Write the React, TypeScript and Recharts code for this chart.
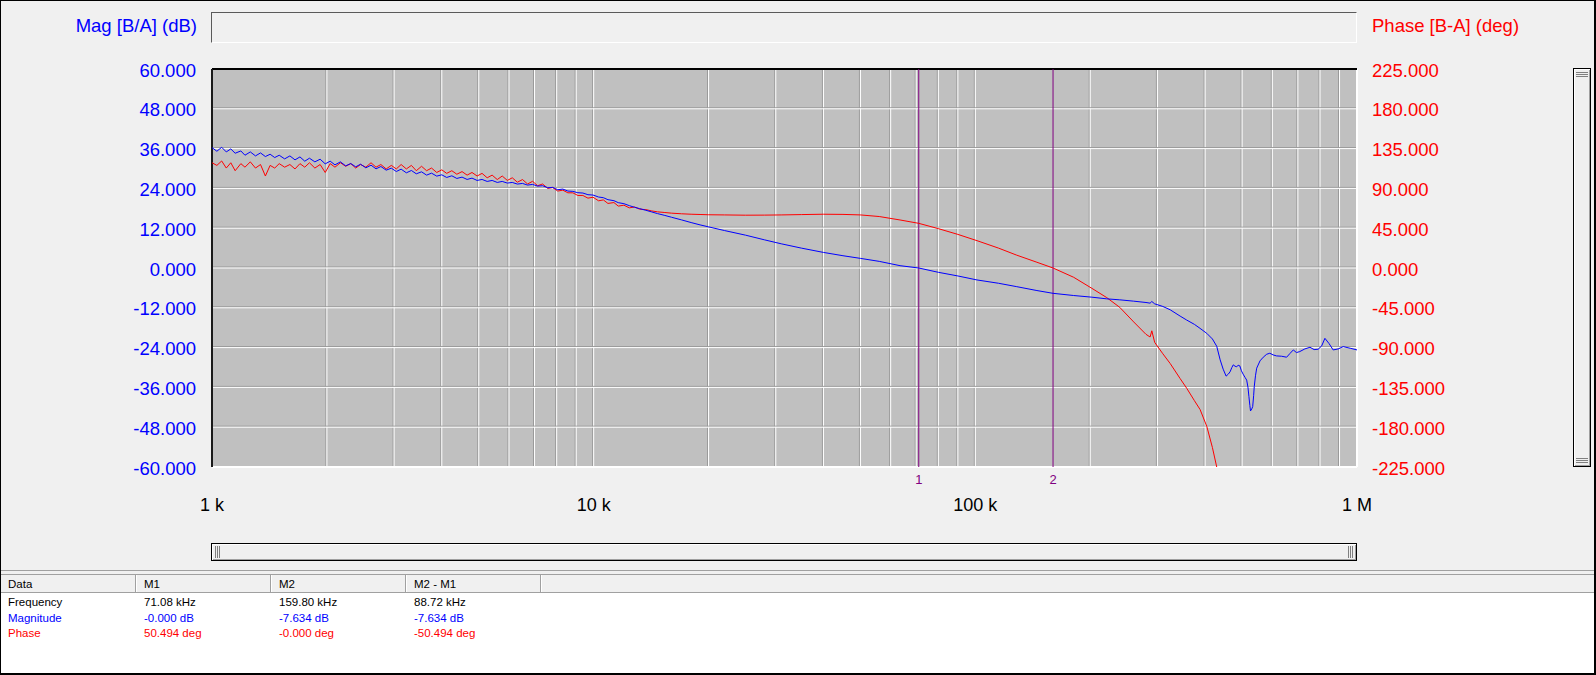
import React from 'react';
import { LineChart, Line, XAxis, YAxis, ReferenceLine, ReferenceArea } from 'recharts';

// Frequency points (kHz)
const freqKHz = [
  1.00, 1.03, 1.06, 1.09, 1.12, 1.15, 1.19, 1.22, 1.26, 1.30,
  1.34, 1.38, 1.42, 1.46, 1.50, 1.55, 1.60, 1.65, 1.70, 1.75,
  1.80, 1.86, 1.92, 1.98, 2.04, 2.10, 2.17, 2.24, 2.31, 2.38,
  2.45, 2.53, 2.61, 2.69, 2.77, 2.86, 2.95, 3.04, 3.13, 3.23,
  3.33, 3.43, 3.54, 3.65, 3.76, 3.88, 4.00, 4.12, 4.25, 4.38,
  4.52, 4.66, 4.80, 4.95, 5.10, 5.26, 5.42, 5.59, 5.76, 5.94,
  6.12, 6.31, 6.51, 6.71, 6.92, 7.13, 7.35, 7.58, 7.81, 8.05,
  8.30, 8.56, 8.82, 9.09, 9.37, 9.66, 9.96, 10.3, 10.6, 10.9,
  11.3, 11.6, 12.0, 12.4, 12.8, 13.2, 13.7, 14.2, 14.7, 15.3,
  16.0, 17.0, 18.0, 19.0, 20.0, 22.0, 25.0, 28.0, 31.0, 35.0,
  40.0, 45.0, 50.0, 56.0, 63.5, 71.08, 80.0, 90.0, 101, 115,
  128, 145, 159.8, 181, 202, 221, 239, 260, 280, 287,
  290, 295, 310, 324, 344, 358, 375, 388, 404, 418,
  429, 438, 446, 454, 460, 465, 470, 474, 479, 484,
  488, 493, 498, 503, 509, 514, 518, 521, 524, 526,
  530, 533, 536, 538, 542, 546, 557, 568, 580, 591,
  603, 615, 634, 654, 667, 681, 694, 708, 730, 753,
  772, 791, 808, 824, 845, 866, 893, 920, 960, 1000,
];

// Magnitude [B/A] (dB)
const magDb = [
  36.3, 35.2, 36.4, 35.0, 35.9, 34.6, 35.3, 34.0, 35.0, 33.8,
  34.7, 33.6, 34.3, 33.3, 34.0, 32.9, 33.8, 32.6, 33.5, 32.2,
  33.1, 32.0, 32.8, 31.4, 32.2, 31.1, 32.0, 30.8, 31.5, 30.5,
  31.3, 30.2, 31.0, 29.9, 30.6, 29.5, 30.1, 29.1, 29.8, 28.7,
  29.4, 28.4, 29.0, 28.0, 28.6, 27.7, 28.1, 27.3, 27.8, 27.0,
  27.4, 26.7, 27.1, 26.4, 26.7, 26.1, 26.4, 25.8, 26.1, 25.6,
  25.8, 25.3, 25.5, 25.0, 25.2, 24.7, 24.8, 24.2, 24.3, 23.6,
  23.8, 23.2, 23.1, 22.7, 22.6, 22.1, 22.0, 21.4, 21.2, 20.6,
  20.3, 19.7, 19.4, 18.8, 18.3, 17.9, 17.4, 16.9, 16.4, 15.9,
  15.3, 14.5, 13.7, 13.0, 12.4, 11.3, 9.9, 8.5, 7.3, 6.0,
  4.7, 3.7, 2.9, 2.0, 0.7, 0.0, -1.3, -2.4, -3.6, -4.6,
  -5.6, -6.8, -7.634, -8.3, -8.8, -9.3, -9.6, -10.0, -10.4, -10.6,
  -10.1, -10.8, -11.6, -12.6, -14.5, -15.7, -17.0, -18.2, -19.7, -21.4,
  -23.6, -27.7, -30.5, -32.6, -32.0, -31.3, -30.0, -29.2, -29.6, -29.8,
  -29.3, -29.5, -31.0, -32.0, -33.0, -33.8, -36.0, -38.8, -41.5, -43.1,
  -42.5, -41.8, -38.5, -35.8, -32.5, -30.2, -28.0, -26.9, -26.0, -25.7,
  -26.2, -26.5, -26.6, -26.9, -25.8, -24.7, -25.5, -25.2, -24.4, -23.9,
  -24.6, -24.5, -23.5, -21.2, -22.8, -24.7, -24.4, -23.7, -24.2, -24.7,
];

// Phase [B-A] (deg) — trace leaves the plot below -225 deg
const phaseDeg = [
  119, 116, 121, 113, 119, 110, 118, 114, 120, 113,
  117, 104, 116, 113, 118, 114, 117, 112, 118, 114,
  119, 113, 117, 108, 118, 114, 119, 115, 118, 113,
  117, 114, 119, 114, 117, 112, 116, 112, 117, 112,
  116, 110, 115, 110, 113, 108, 111, 107, 110, 106,
  109, 105, 108, 104, 107, 102, 105, 100, 104, 99,
  102, 97, 100, 95, 98, 93, 95, 90, 91, 87,
  88, 85, 85, 82, 82, 79, 80, 76, 77, 73,
  74, 70, 71, 68, 69, 66.5, 66, 64.5, 63.5, 62.8,
  62.0, 61.3, 60.8, 60.5, 60.2, 60.0, 59.7, 59.8, 60.0, 60.4,
  60.8, 60.6, 60.0, 58.2, 54.3, 50.494, 44.5, 38.0, 30.9, 22.5,
  14.7, 6.5, 0.0, -10.5, -23, -33.5, -44.5, -61, -75, -78,
  -71, -84, -97, -108, -125, -136, -150, -160, -179, -203,
  -225, -236,
];

const xTicks = [1, 10, 100, 1000];
const xTickLabels = ['1 k', '10 k', '100 k', '1 M'];
const xGrid = [2, 3, 4, 5, 6, 7, 8, 9, 10, 20, 30, 40, 50, 60, 70, 80, 90, 100, 200, 300, 400, 500, 600, 700, 800, 900];
const magTicks = [-60, -48, -36, -24, -12, 0, 12, 24, 36, 48, 60];
const magGrid = [-48, -36, -24, -12, 0, 12, 24, 36, 48];
const phaseTicks = [-225, -180, -135, -90, -45, 0, 45, 90, 135, 180, 225];

const markerIds = ['1', '2'];
const markerFreqs = [71.08, 159.8];

const tableHeader = ['Data', 'M1', 'M2', 'M2 - M1'];
const rowLabels = ['Frequency', 'Magnitude', 'Phase'];
const rowColors = ['#000000', '#0000ff', '#ff0000'];
const rowM1 = ['71.08 kHz', '-0.000 dB', '50.494 deg'];
const rowM2 = ['159.80 kHz', '-7.634 dB', '-0.000 deg'];
const rowDiff = ['88.72 kHz', '-7.634 dB', '-50.494 deg'];

const FONT = '"Liberation Sans", Arial, sans-serif';

const XTick = (props: any) => {
  const { x, y, payload } = props;
  const idx = xTicks.indexOf(payload.value);
  return (
    <text x={x} y={y + 37.5} textAnchor="middle" dominantBaseline="central" fontSize={18} fill="#000" fontFamily={FONT}>
      {xTickLabels[idx]}
    </text>
  );
};

const MagTick = (props: any) => {
  const { x, y, payload } = props;
  return (
    <text x={x} y={y + 1} textAnchor="end" dominantBaseline="central" fontSize={18.5} fill="#0000ff" fontFamily={FONT}>
      {Number(payload.value).toFixed(3)}
    </text>
  );
};

const PhTick = (props: any) => {
  const { x, y, payload } = props;
  return (
    <text x={x} y={y + 1} textAnchor="start" dominantBaseline="central" fontSize={18.5} fill="#ff0000" fontFamily={FONT}>
      {Number(payload.value).toFixed(3)}
    </text>
  );
};

const colLefts = [0, 136, 271, 406, 541];
const colWidths = [136, 135, 135, 135, 1055];

export default function App() {
  const data = freqKHz.map((f, i) => ({
    f,
    mag: magDb[i],
    phase: i < phaseDeg.length ? phaseDeg[i] : null,
  }));

  return (
    <div style={{ position: 'relative', width: 1596, height: 675, background: '#f0f0f0', fontFamily: FONT, overflow: 'hidden' }}>
      <style>{'body{margin:0} .shl{transform:translate(-1px,0)} .shu{transform:translate(0,-1px)}'}</style>

      {/* Title strip */}
      <div style={{ position: 'absolute', left: 211, top: 12, width: 1146, height: 31, boxSizing: 'border-box', borderTop: '1px solid #5a5a5a', borderLeft: '1px solid #5a5a5a', borderBottom: '1px solid #ffffff', borderRight: '1px solid #ffffff', background: '#f0f0f0' }} />
      <div style={{ position: 'absolute', right: 1596 - 197, top: 15, height: 22, lineHeight: '22px', fontSize: 18.5, color: '#0000ff', whiteSpace: 'nowrap' }}>Mag [B/A] (dB)</div>
      <div style={{ position: 'absolute', left: 1372, top: 15, height: 22, lineHeight: '22px', fontSize: 18.5, color: '#ff0000', whiteSpace: 'nowrap' }}>Phase [B-A] (deg)</div>

      <div style={{ position: 'absolute', left: 0, top: 0 }}>
        <LineChart width={1596} height={530} data={data} margin={{ top: 69, right: 0, bottom: 0, left: 0 }}>
          <XAxis dataKey="f" type="number" scale="log" domain={[1, 1000]} ticks={xTicks} allowDataOverflow interval={0}
            tick={XTick} tickSize={0} tickMargin={0} axisLine={false} tickLine={false} height={63} />
          <YAxis yAxisId="mag" domain={[-60, 60]} ticks={magTicks} interval={0} width={212}
            tick={MagTick} tickSize={0} tickMargin={16} axisLine={false} tickLine={false} />
          <YAxis yAxisId="ph" orientation="right" domain={[-225, 225]} ticks={phaseTicks} interval={0} width={239} allowDataOverflow
            tick={PhTick} tickSize={0} tickMargin={15} axisLine={false} tickLine={false} />

          <ReferenceArea yAxisId="mag" x1={1} x2={1000} y1={-60} y2={60} fill="#c0c0c0" fillOpacity={1} stroke="none" zIndex={-60} />

          {xGrid.map((v) => (
            <ReferenceLine key={'vs' + v} yAxisId="mag" x={v} stroke="#999999" strokeWidth={1} className="shl" zIndex={-50} />
          ))}
          {xGrid.map((v) => (
            <ReferenceLine key={'vw' + v} yAxisId="mag" x={v} stroke="#ffffff" strokeWidth={1} zIndex={-49} />
          ))}
          {magGrid.map((v) => (
            <ReferenceLine key={'hs' + v} yAxisId="mag" y={v} stroke="#999999" strokeWidth={1} className="shu" zIndex={-48} />
          ))}
          {magGrid.map((v) => (
            <ReferenceLine key={'hw' + v} yAxisId="mag" y={v} stroke="#ffffff" strokeWidth={1} zIndex={-47} />
          ))}

          <ReferenceLine yAxisId="mag" y={-60} stroke="#ffffff" strokeWidth={2} zIndex={-46} />
          <ReferenceLine yAxisId="mag" x={1000} stroke="#ffffff" strokeWidth={2} zIndex={-46} />
          <ReferenceLine yAxisId="mag" y={60} stroke="#000000" strokeWidth={2} zIndex={-45} />
          <ReferenceLine yAxisId="mag" x={1} stroke="#1a1a1a" strokeWidth={2} zIndex={-45} />

          {markerFreqs.map((f, i) => (
            <ReferenceLine key={'m' + i} yAxisId="mag" x={f} stroke="#800080" strokeWidth={1} zIndex={-40}
              label={{ value: markerIds[i], position: 'bottom', fill: '#800080', fontSize: 13, offset: 8, fontFamily: FONT }} />
          ))}

          <Line yAxisId="ph" dataKey="phase" type="linear" stroke="#ff0000" strokeWidth={1} dot={false} activeDot={false}
            isAnimationActive={false} connectNulls={false} />
          <Line yAxisId="mag" dataKey="mag" type="linear" stroke="#0000ff" strokeWidth={1} dot={false} activeDot={false}
            isAnimationActive={false} />
        </LineChart>
      </div>

      {/* Horizontal scrollbar */}
      <div style={{ position: 'absolute', left: 211, top: 543, width: 1146, height: 18, boxSizing: 'border-box', border: '1px solid #000', boxShadow: 'inset 1px 1px 0 #ffffff, inset -1px -1px 0 #a0a0a0', background: '#f0f0f0' }}>
        <div style={{ position: 'absolute', left: 3, top: 2, width: 1, height: 12, background: '#808080' }} />
        <div style={{ position: 'absolute', left: 5, top: 2, width: 1, height: 12, background: '#808080' }} />
        <div style={{ position: 'absolute', left: 7, top: 2, width: 1, height: 12, background: '#808080' }} />
        <div style={{ position: 'absolute', right: 3, top: 2, width: 1, height: 12, background: '#808080' }} />
        <div style={{ position: 'absolute', right: 5, top: 2, width: 1, height: 12, background: '#808080' }} />
        <div style={{ position: 'absolute', right: 7, top: 2, width: 1, height: 12, background: '#808080' }} />
      </div>

      {/* Vertical scrollbar */}
      <div style={{ position: 'absolute', left: 1573, top: 68, width: 18, height: 399, boxSizing: 'border-box', border: '1px solid #000', boxShadow: 'inset 1px 1px 0 #ffffff, inset -1px -1px 0 #a0a0a0', background: '#f0f0f0' }}>
        <div style={{ position: 'absolute', top: 3, left: 2, height: 1, width: 12, background: '#808080' }} />
        <div style={{ position: 'absolute', top: 5, left: 2, height: 1, width: 12, background: '#808080' }} />
        <div style={{ position: 'absolute', top: 7, left: 2, height: 1, width: 12, background: '#808080' }} />
        <div style={{ position: 'absolute', bottom: 3, left: 2, height: 1, width: 12, background: '#808080' }} />
        <div style={{ position: 'absolute', bottom: 5, left: 2, height: 1, width: 12, background: '#808080' }} />
        <div style={{ position: 'absolute', bottom: 7, left: 2, height: 1, width: 12, background: '#808080' }} />
      </div>

      {/* Data table */}
      <div style={{ position: 'absolute', left: 0, top: 570, width: 1596, height: 1, background: '#a0a0a0' }} />
      <div style={{ position: 'absolute', left: 0, top: 574, width: 1596, height: 19, boxSizing: 'border-box', borderTop: '1px solid #a0a0a0', borderBottom: '1px solid #a0a0a0', background: '#f0f0f0' }}>
        {colLefts.map((l, i) => (
          <div key={'hc' + i} style={{ position: 'absolute', left: l, top: 0, width: colWidths[i], height: 17, boxSizing: 'border-box', borderRight: '1px solid #a0a0a0', boxShadow: 'inset -2px 0 0 #f0f0f0, 1px 0 0 #ffffff', fontSize: 11.5, lineHeight: '19px', paddingLeft: 8, color: '#000', whiteSpace: 'nowrap' }}>
            {i < tableHeader.length ? tableHeader[i] : ''}
          </div>
        ))}
      </div>
      <div style={{ position: 'absolute', left: 0, top: 593, width: 1596, height: 82, background: '#ffffff' }}>
        {rowLabels.map((lab, r) => {
          const cells = [lab, rowM1[r], rowM2[r], rowDiff[r]];
          return cells.map((c, ci) => (
            <div key={'c' + r + '_' + ci} style={{ position: 'absolute', left: colLefts[ci] + 8, top: 1 + r * 15.7, height: 16, lineHeight: '16px', fontSize: 11.5, color: rowColors[r], whiteSpace: 'nowrap' }}>
              {c}
            </div>
          ));
        })}
      </div>

      {/* outer frame */}
      <div style={{ position: 'absolute', left: 0, top: 0, width: 1596, height: 675, boxSizing: 'border-box', border: '1px solid #000', borderRight: '2px solid #000', borderBottom: '2px solid #000', pointerEvents: 'none' }} />
    </div>
  );
}
